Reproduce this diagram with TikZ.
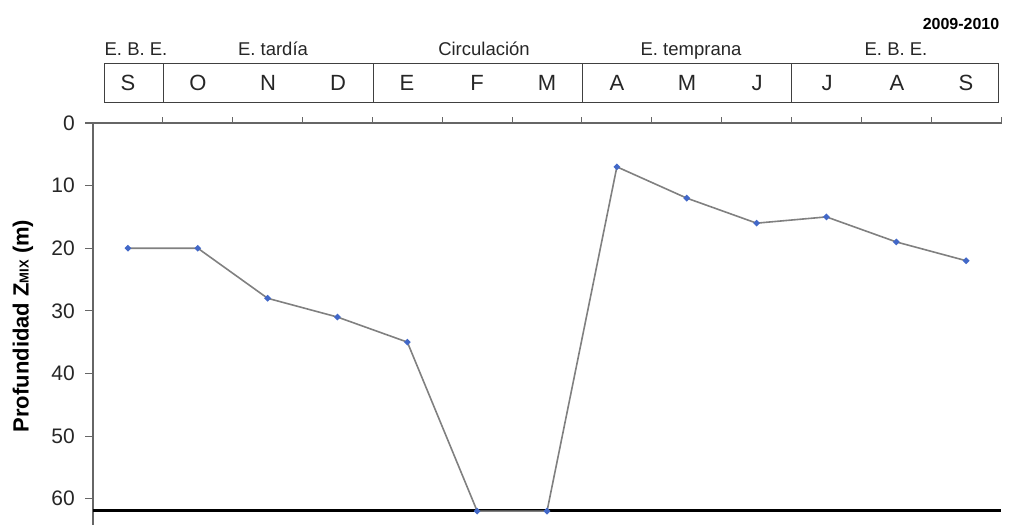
\documentclass[tikz,border=0pt]{standalone}
\usepackage{fontspec}
\setmainfont{Liberation Sans}
\usetikzlibrary{shapes.geometric}
\definecolor{markblue}{RGB}{66,104,200}
\begin{document}
\begin{tikzpicture}[x=1pt,y=-1pt,
  axisline/.style={draw=black!60,line width=1.3pt},
  boxline/.style={draw=black!75,line width=1pt},
  monthlbl/.style={font=\fontsize{22}{22}\selectfont,text=black!85,anchor=center,inner sep=0pt},
  phaselbl/.style={font=\fontsize{18.5}{18.5}\selectfont,text=black!85,anchor=base,inner sep=0pt},
  ticklbl/.style={font=\fontsize{21}{21}\selectfont,text=black!85,anchor=east,inner sep=0pt},
  series/.style={draw=black!50,line width=1.6pt},
  marker/.style={diamond,fill=markblue,draw=none,inner sep=0pt,minimum size=7pt}
]
\useasboundingbox (0,0) rectangle (1014,525);
\def\dy{6.26}
% month box
\draw[boxline] (104,63) rectangle (998,102);
\foreach \xx in {163,373,582.5,791.5} \draw[boxline] (\xx,63) -- (\xx,102);
\foreach \m/\xx in {S/128,O/198,N/268,D/338,E/407,F/477,M/547,A/617,M/687,J/757,J/827,A/897,S/966}
  \node[monthlbl] at (\xx,83) {\m};
\node[phaselbl] (p1) at (136,55) {E. B. E.};
\node[phaselbl] (p2) at (273,55) {E. tardía};
\node[phaselbl] (p3) at (484,55) {Circulación};
\node[phaselbl] (p4) at (691,55) {E. temprana};
\node[phaselbl] (p5) at (896,55) {E. B. E.};
\node[font=\bfseries\fontsize{16}{16}\selectfont,anchor=base,inner sep=0pt] (yr) at (961,29) {2009-2010};
% axes
\draw[axisline] (85,123) -- (1001.5,123);
\draw[axisline] (93,123) -- (93,525);
\foreach \i in {1,...,13} \draw[axisline,line width=1pt] ({93+\i*69.85},123) -- ({93+\i*69.85},117);
\foreach \v in {0,10,...,60} {
  \draw[axisline,line width=1pt] (85,{123+\v*\dy}) -- (93,{123+\v*\dy});
  \node[ticklbl] at (75,{123+\v*\dy}) {\v};
}
\node[rotate=90,font=\bfseries\fontsize{22}{22}\selectfont,inner sep=0pt] (ylab) at (23,326)
  {Profundidad Z{\fontsize{13}{13}\selectfont MIX} (m)};
% bottom line
\draw[line width=2.6pt,black] (93,510.7) -- (1000.7,510.7);
% data
\foreach \n/\v in {1/20,2/20,3/28,4/31,5/35,6/62,7/62,8/7,9/12,10/16,11/15,12/19,13/22}
  \coordinate (d\n) at ({93+(\n-0.5)*69.85},{123+\v*\dy});
\draw[series] (d1)--(d2)--(d3)--(d4)--(d5)--(d6)--(d7)--(d8)--(d9)--(d10)--(d11)--(d12)--(d13);
\foreach \n in {1,...,13} \node[marker] (m\n) at (d\n) {};
\end{tikzpicture}
\end{document}
